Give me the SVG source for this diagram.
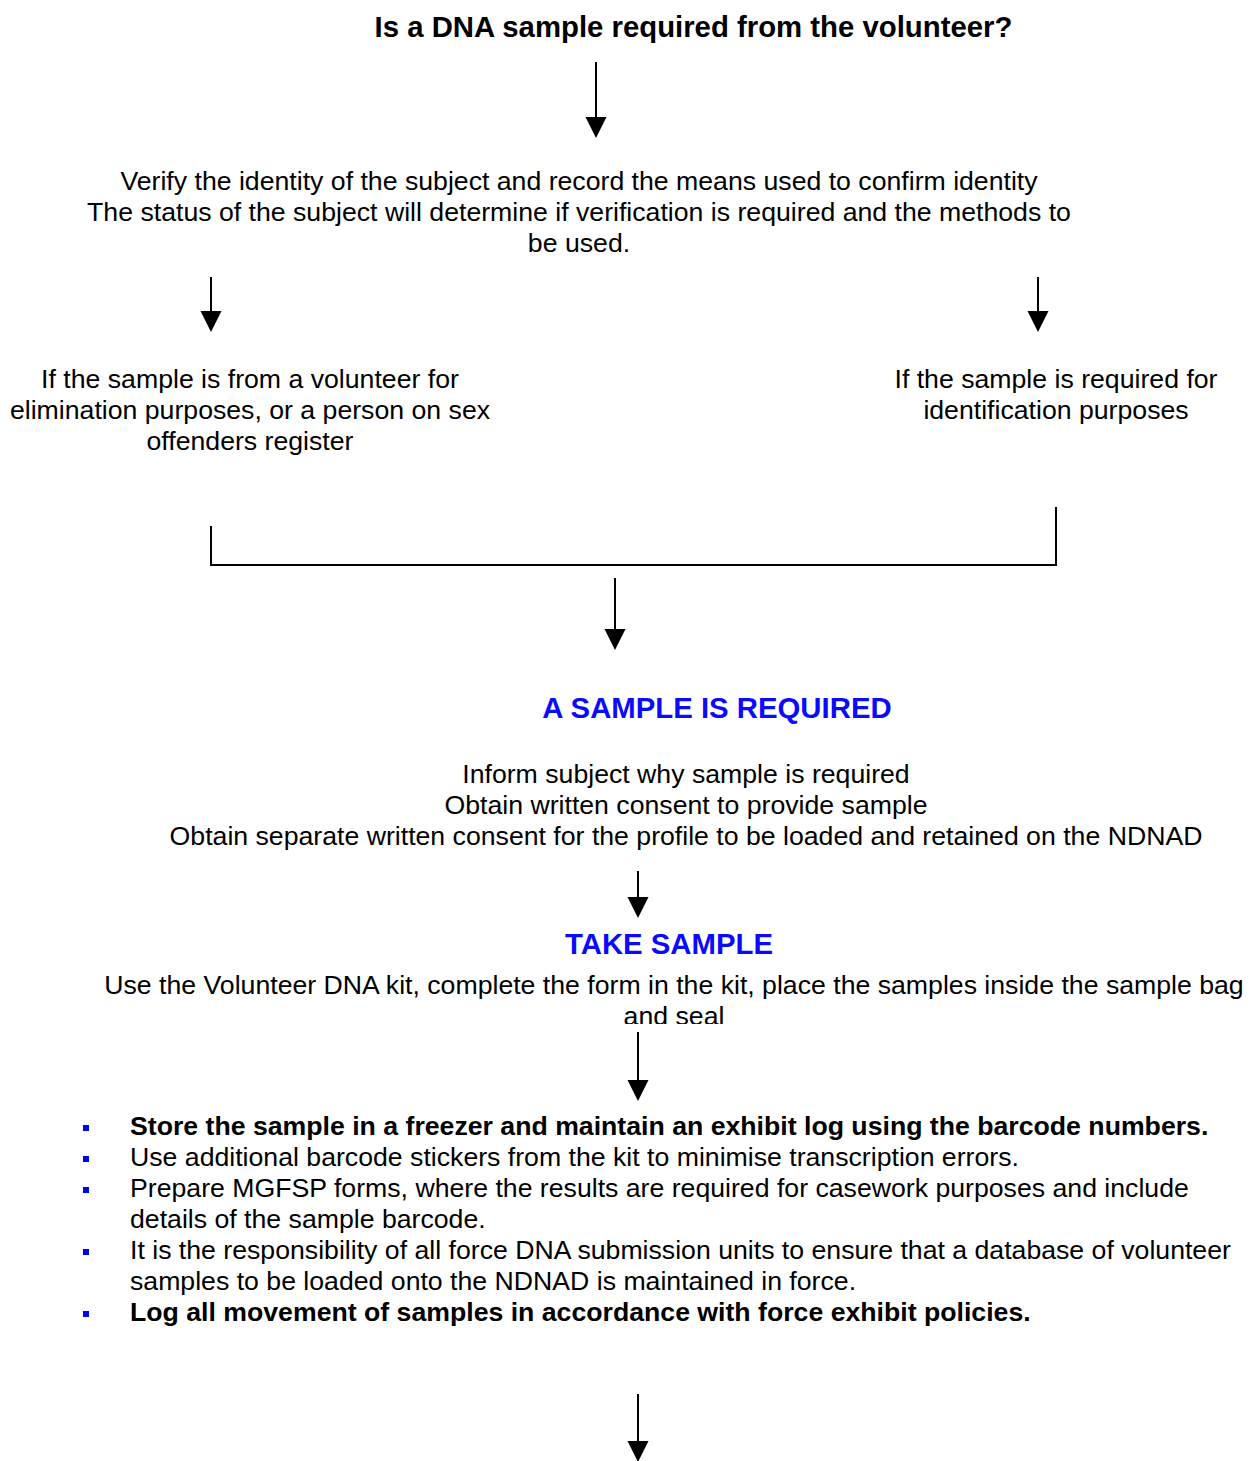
<svg xmlns="http://www.w3.org/2000/svg" width="1250" height="1461" viewBox="0 0 1250 1461">
<style>
text{font-family:"Liberation Sans",Arial,sans-serif;font-size:26.67px;fill:#000}
.c{text-anchor:middle}
.b{font-weight:bold}
.t{font-weight:bold;font-size:29.33px}
.blue{fill:#0a0aff;font-weight:bold;font-size:29.33px}
.ln{stroke:#000;stroke-width:2;fill:none}
.bul{fill:#0000ff}
</style>
<defs>
<clipPath id="clipSeal"><rect x="0" y="960" width="1250" height="64"/></clipPath>
</defs>
<rect width="1250" height="1461" fill="#fff"/>
<g id="connectors">
<line class="ln" x1="596" y1="62" x2="596" y2="118"/>
<path d="M585.5,117 L606.5,117 L596,138 Z"/>
<line class="ln" x1="211" y1="277" x2="211" y2="312"/>
<path d="M200.5,311 L221.5,311 L211,332 Z"/>
<line class="ln" x1="1038" y1="277" x2="1038" y2="312"/>
<path d="M1027.5,311 L1048.5,311 L1038,332 Z"/>
<path class="ln" d="M211,526 L211,565 L1056,565 L1056,507"/>
<line class="ln" x1="615" y1="578" x2="615" y2="630"/>
<path d="M604.5,629 L625.5,629 L615,650 Z"/>
<line class="ln" x1="638" y1="871" x2="638" y2="898"/>
<path d="M627.5,897 L648.5,897 L638,918 Z"/>
<line class="ln" x1="638" y1="1032" x2="638" y2="1081"/>
<path d="M627.5,1080 L648.5,1080 L638,1101 Z"/>
<line class="ln" x1="638" y1="1394" x2="638" y2="1442"/>
<path d="M627.5,1441 L648.5,1441 L638,1462 Z"/>
</g>
<g id="title"><text class="c t" x="693.5" y="37">Is a DNA sample required from the volunteer?</text></g>
<g id="verify">
<text class="c" x="579" y="190">Verify the identity of the subject and record the means used to confirm identity</text>
<text class="c" x="579" y="221">The status of the subject will determine if verification is required and the methods to</text>
<text class="c" x="579" y="252">be used.</text>
</g>
<g id="elimination">
<text class="c" x="250" y="388">If the sample is from a volunteer for</text>
<text class="c" x="250" y="419">elimination purposes, or a person on sex</text>
<text class="c" x="250" y="450">offenders register</text>
</g>
<g id="identification">
<text class="c" x="1056" y="388">If the sample is required for</text>
<text class="c" x="1056" y="419">identification purposes</text>
</g>
<g id="required">
<text class="c blue" x="717" y="718">A SAMPLE IS REQUIRED</text>
</g>
<g id="inform">
<text class="c" x="686" y="783">Inform subject why sample is required</text>
<text class="c" x="686" y="814">Obtain written consent to provide sample</text>
<text class="c" x="686" y="845">Obtain separate written consent for the profile to be loaded and retained on the NDNAD</text>
</g>
<g id="take">
<text class="c blue" x="669" y="954">TAKE SAMPLE</text>
</g>
<g id="kit">
<text class="c" x="674" y="994">Use the Volunteer DNA kit, complete the form in the kit, place the samples inside the sample bag</text>
<text class="c" x="674" y="1025" clip-path="url(#clipSeal)">and seal</text>
</g>
<g id="store">
<rect class="bul" x="83" y="1125" width="6" height="6"/>
<text class="b" x="130" y="1135">Store the sample in a freezer and maintain an exhibit log using the barcode numbers.</text>
<rect class="bul" x="83" y="1156" width="6" height="6"/>
<text x="130" y="1166">Use additional barcode stickers from the kit to minimise transcription errors.</text>
<rect class="bul" x="83" y="1187" width="6" height="6"/>
<text x="130" y="1197">Prepare MGFSP forms, where the results are required for casework purposes and include</text>
<text x="130" y="1228">details of the sample barcode.</text>
<rect class="bul" x="83" y="1249" width="6" height="6"/>
<text x="130" y="1259">It is the responsibility of all force DNA submission units to ensure that a database of volunteer</text>
<text x="130" y="1290">samples to be loaded onto the NDNAD is maintained in force.</text>
<rect class="bul" x="83" y="1311" width="6" height="6"/>
<text class="b" x="130" y="1321">Log all movement of samples in accordance with force exhibit policies.</text>
</g>
</svg>
